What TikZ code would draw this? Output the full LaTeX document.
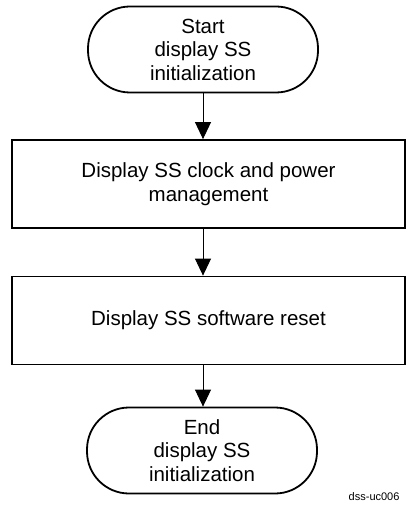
\documentclass[tikz,border=0pt]{standalone}
\usepackage{fontspec}
\setmainfont{Liberation Sans}
\usetikzlibrary{arrows.meta,calc}
\begin{document}
\begin{tikzpicture}[x=1pt,y=-1pt,
  term/.style={draw=black,line width=1.8pt,rounded corners=42pt,minimum width=230pt,minimum height=86pt,align=center,inner sep=0pt,
    font=\fontsize{20.5}{23.5}\selectfont},
  procbox/.style={draw=black,line width=1.8pt,minimum width=393pt,minimum height=88pt,align=center,inner sep=0pt,
    font=\fontsize{20.5}{23.5}\selectfont},
  flow/.style={draw=black,line width=0.9pt,-{Triangle[width=16pt,length=17pt]}}]
\useasboundingbox (0,0) rectangle (415,510);
\node[term] (start) at (203,49.5) {Start\\display SS\\initialization};
\node[procbox] (p1) at (208.5,184) {Display SS clock and power\\management};
\node[procbox] (p2) at (208.5,320.5) {Display SS software reset};
\node[term] (end) at (202,450.5) {End\\display SS\\initialization};
\node[font=\fontsize{11}{13}\selectfont,anchor=east] (tag) at (403,497) {dss-uc006};
\draw[flow] (start.south) -- (start.south |- p1.north);
\draw[flow] (start.south |- p1.south) -- (start.south |- p2.north);
\draw[flow] (start.south |- p2.south) -- (start.south |- end.north);
\end{tikzpicture}
\end{document}
